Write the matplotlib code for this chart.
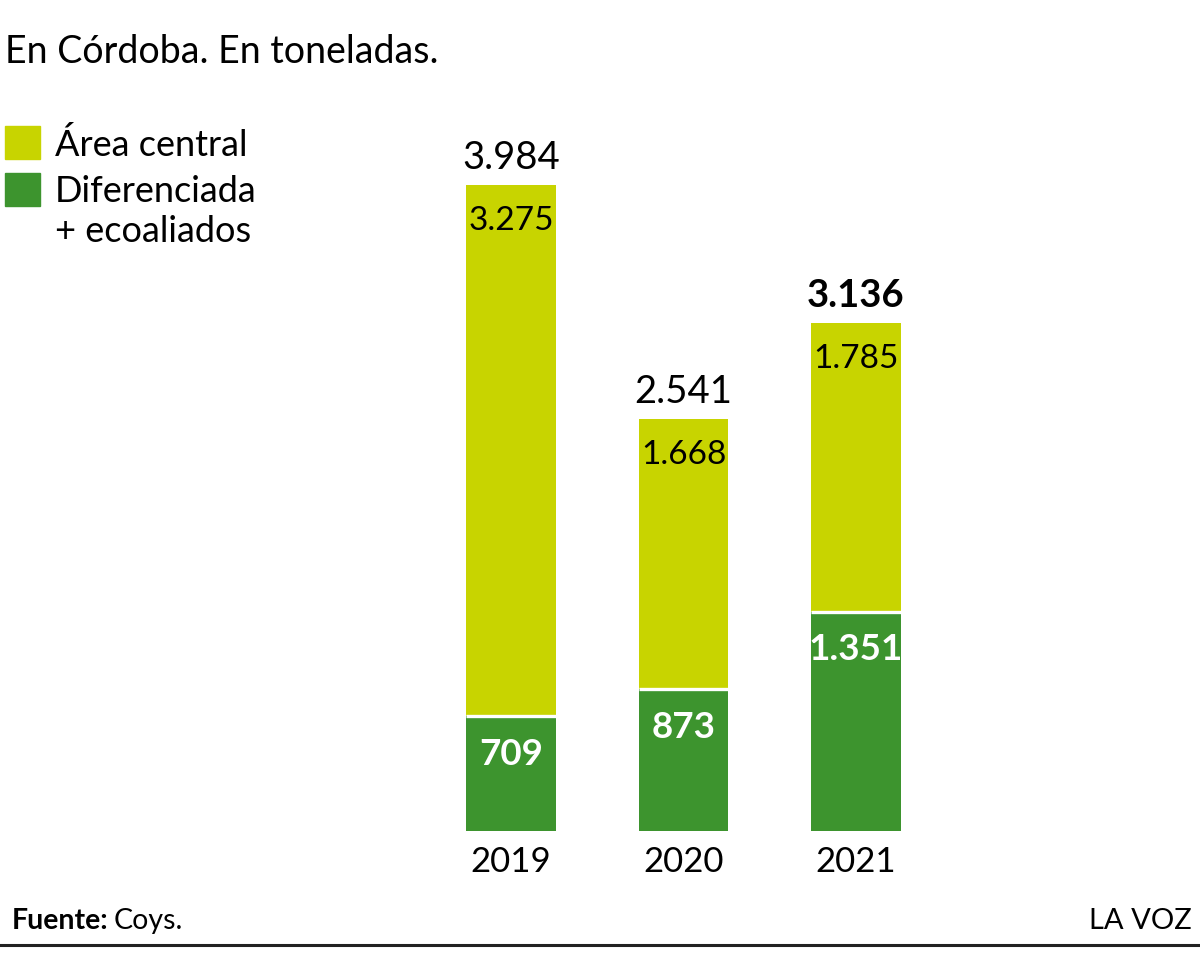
import matplotlib
matplotlib.use("Agg")
import matplotlib.pyplot as plt
from matplotlib.patches import Rectangle

years = ["2019", "2020", "2021"]
area_central = [3275, 1668, 1785]
diferenciada = [709, 873, 1351]
totals = [3984, 2541, 3136]
total_labels = ["3.984", "2.541", "3.136"]
central_labels = ["3.275", "1.668", "1.785"]
dif_labels = ["709", "873", "1.351"]

YELLOW = "#c8d400"
GREEN = "#3d942e"
FONT = "Lato"

W, H = 1200, 954
fig = plt.figure(figsize=(W / 100, H / 100), dpi=100)
PT = 72 / 100  # points per pixel


def fx(px):
    return px / W


def fy(py):
    return 1 - py / H


# axes geometry (pixels)
base_px = 832
scale = 646 / 3984  # px per ton
ymax = 4000
left_px = 511 - 86.25
ax = fig.add_axes([fx(left_px), fy(base_px), 517.5 / W, ymax * scale / H])
ax.set_xlim(-0.5, 2.5)
ax.set_ylim(0, ymax)
ax.axis("off")

x = list(range(len(years)))
bw = 0.52
ax.bar(x, diferenciada, width=bw, color=GREEN, linewidth=0)
ax.bar(x, area_central, bottom=diferenciada, width=bw, color=YELLOW, linewidth=0)
for i in x:
    ax.plot([i - bw / 2, i + bw / 2], [diferenciada[i], diferenciada[i]],
            color="white", lw=2.4, solid_capstyle="butt")

for i in x:
    ax.annotate(total_labels[i], (i, totals[i]), xytext=(0, 28 * PT),
                textcoords="offset points", ha="center", va="center",
                fontsize=27.5, family=FONT,
                fontweight="bold" if i == 2 else "normal", color="black")
    ax.annotate(central_labels[i], (i, totals[i]), xytext=(0, -35 * PT),
                textcoords="offset points", ha="center", va="center",
                fontsize=24, family=FONT, color="black")
    ax.annotate(dif_labels[i], (i, diferenciada[i]), xytext=(0, -37 * PT),
                textcoords="offset points", ha="center", va="center",
                fontsize=26.5, family=FONT, fontweight="bold", color="white")
    ax.annotate(years[i], (i, 0), xytext=(0, -30 * PT),
                textcoords="offset points", ha="center", va="center",
                fontsize=25, family=FONT, color="black")

# title
fig.text(fx(5), fy(52), "En Córdoba. En toneladas.", ha="left", va="center",
         fontsize=27, family=FONT, color="black")

# legend
fig.patches.append(Rectangle((fx(5), fy(160)), 35 / W, 33 / H, color=YELLOW,
                             transform=fig.transFigure, figure=fig))
fig.patches.append(Rectangle((fx(5), fy(207)), 35 / W, 33 / H, color=GREEN,
                             transform=fig.transFigure, figure=fig))
fig.text(fx(55), fy(145), "Área central", ha="left", va="center",
         fontsize=26, family=FONT)
fig.text(fx(55), fy(192), "Diferenciada", ha="left", va="center",
         fontsize=26, family=FONT)
fig.text(fx(55), fy(231), "+ ecoaliados", ha="left", va="center",
         fontsize=26, family=FONT)

# footer
t = fig.text(fx(12), fy(921), "Fuente:", ha="left", va="center",
             fontsize=20.5, family=FONT, fontweight="bold")
fig.canvas.draw()
bb = t.get_window_extent()
fig.text((bb.x1 + 5) / W, fy(921), "Coys.", ha="left", va="center",
         fontsize=20.5, family=FONT, fontweight="normal")
fig.text(fx(1192), fy(921), "LA VOZ", ha="right", va="center",
         fontsize=21, family=FONT)
fig.add_artist(plt.Line2D([0, 1], [fy(946), fy(946)], color="#222222", lw=2.2,
                          transform=fig.transFigure))

fig.savefig("out.png", dpi=100)
